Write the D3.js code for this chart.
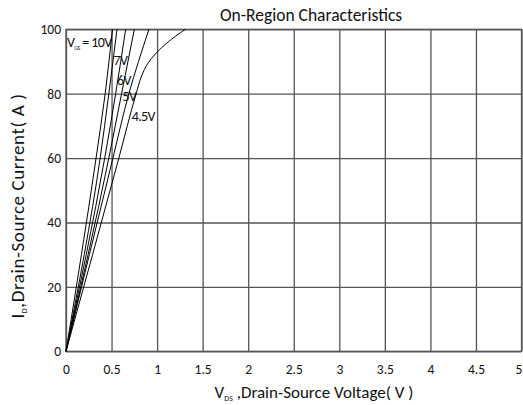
<!DOCTYPE html>
<html>
<head>
<meta charset="utf-8">
<script src="https://cdn.jsdelivr.net/npm/d3@7"></script>
<style>
  body { margin: 0; background: #fff; }
  text { font-family: Carlito, Lato, "Open Sans", sans-serif; fill: #111; }
</style>
</head>
<body>
<svg id="chart" width="523" height="405"></svg>
<script>
// Axis ticks
const xTicks = [0, 0.5, 1, 1.5, 2, 2.5, 3, 3.5, 4, 4.5, 5];
const yTicks = [0, 20, 40, 60, 80, 100];

// Curves: [VDS, ID]
const vgs10 = [[0, 0], [0.33, 60], [0.43, 80], [0.51, 100]];
const vgs8 = [[0, 0], [0.375, 60], [0.47, 80], [0.56, 100]];
const vgs7 = [[0, 0], [0.425, 60], [0.545, 80], [0.655, 100]];
const vgs6 = [[0, 0], [0.47, 60], [0.61, 80], [0.75, 100]];
const vgs5 = [[0, 0], [0.515, 60], [0.69, 80], [0.91, 100]];
const vgs45 = [[0, 0], [0.58, 60], [0.77, 80], [0.83, 85.5], [0.9, 89.5],
  [0.98, 92.3], [1.05, 94.3], [1.2, 97.8], [1.31, 100]];
const curves = [vgs10, vgs8, vgs7, vgs6, vgs5, vgs45];

// Curve labels: text, anchor point [VDS, ID]
const labelText = ["= 10V", "7V", "6V", "5V", "4.5V"];
const labelAt = [[0.0, 94.5], [0.51, 88.8], [0.55, 82.6], [0.61, 77.6], [0.71, 71.4]];

const margin = { top: 29.3, right: 1.5, bottom: 53.7, left: 66 };
const width = 523 - margin.left - margin.right;
const height = 405 - margin.top - margin.bottom;

const svg = d3.select("#chart");
const g = svg.append("g")
  .attr("transform", "translate(" + margin.left + "," + margin.top + ")");

const x = d3.scaleLinear().domain([0, 5]).range([0, width]);
const y = d3.scaleLinear().domain([0, 100]).range([height, 0]);

const gridColor = "#555";

// x grid + labels
const xAxis = g.append("g")
  .attr("transform", "translate(0," + height + ")")
  .call(d3.axisBottom(x).tickValues(xTicks).tickSize(-height).tickPadding(13)
    .tickFormat((d) => d));
xAxis.select(".domain").remove();
xAxis.selectAll("line").attr("stroke", gridColor).attr("stroke-width", 1.3);
xAxis.selectAll("text").style("font-size", "13.5px").attr("fill", "#111");
// last label sits at the window edge, nudge it in
xAxis.selectAll("text").filter((d) => d === 5).attr("dx", -3);

// y grid + labels
const yAxis = g.append("g")
  .call(d3.axisLeft(y).tickValues(yTicks).tickSize(-width).tickPadding(5));
yAxis.select(".domain").remove();
yAxis.selectAll("line").attr("stroke", gridColor).attr("stroke-width", 1.3);
yAxis.selectAll("text").style("font-size", "13.5px").attr("fill", "#111");

// plot frame
g.append("rect")
  .attr("x", 0).attr("y", 0)
  .attr("width", width).attr("height", height)
  .attr("fill", "none")
  .attr("stroke", gridColor)
  .attr("stroke-width", 1.3);

// curves
const line = d3.line()
  .x((d) => x(d[0]))
  .y((d) => y(d[1]))
  .curve(d3.curveMonotoneY);

g.selectAll(".curve")
  .data(curves)
  .enter()
  .append("path")
  .attr("class", "curve")
  .attr("d", line)
  .attr("fill", "none")
  .attr("stroke", "#000")
  .attr("stroke-width", 1);

// curve labels
const labels = g.selectAll(".lbl")
  .data(labelText)
  .enter()
  .append("text")
  .attr("class", "lbl")
  .attr("x", (d, i) => x(labelAt[i][0]) + 1)
  .attr("y", (d, i) => y(labelAt[i][1]))
  .style("font-size", "14px")
  .style("letter-spacing", "-0.6px");

labels.each(function (d, i) {
  const t = d3.select(this);
  if (i === 0) {
    t.append("tspan").text("V");
    t.append("tspan").attr("dy", 3).style("font-size", "6px").text("GS");
    t.append("tspan").attr("dy", -3).text(" " + d);
  } else {
    t.text(d);
  }
});

// title
svg.append("text")
  .attr("x", 311)
  .attr("y", 21)
  .attr("text-anchor", "middle")
  .style("font-size", "17.5px")
  .text("On-Region Characteristics");

// x axis label
const xl = svg.append("text")
  .attr("x", 314)
  .attr("y", 398)
  .attr("text-anchor", "middle")
  .style("font-size", "17px");
xl.append("tspan").text("V");
xl.append("tspan").attr("dy", 3).style("font-size", "8px").text("DS");
xl.append("tspan").attr("dy", -3).text(" ,Drain-Source Voltage( V )");

// y axis label
const yl = svg.append("text")
  .attr("transform", "translate(24,206) rotate(-90)")
  .attr("text-anchor", "middle")
  .style("font-size", "19px")
  .style("letter-spacing", "0.6px");
yl.append("tspan").text("I");
yl.append("tspan").attr("dy", 3).style("font-size", "8px").text("D");
yl.append("tspan").attr("dy", -3).text(",Drain-Source Current( A )");
</script>
</body>
</html>
